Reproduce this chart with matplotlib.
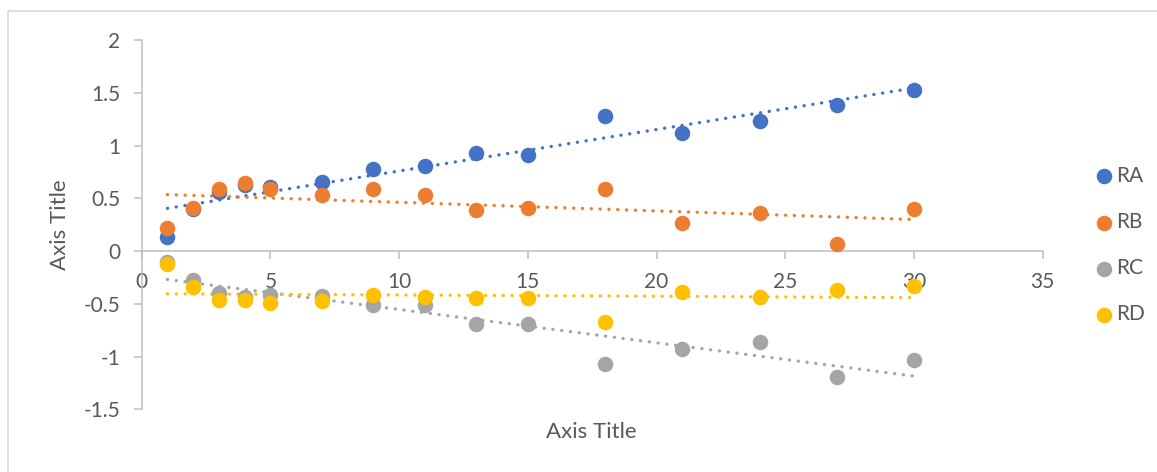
import numpy as np
import matplotlib
matplotlib.use("Agg")
import matplotlib.pyplot as plt
from matplotlib.patches import Rectangle

plt.rcParams['font.family'] = ['Lato', 'DejaVu Sans']

x = [1, 2, 3, 4, 5, 7, 9, 11, 13, 15, 18, 21, 24, 27, 30]
ra = [0.13, 0.40, 0.56, 0.63, 0.61, 0.65, 0.78, 0.81, 0.925, 0.91, 1.28, 1.12, 1.23, 1.385, 1.53]
rb = [0.215, 0.41, 0.59, 0.645, 0.59, 0.535, 0.59, 0.535, 0.39, 0.41, 0.59, 0.27, 0.36, 0.07, 0.40]
rc = [-0.105, -0.27, -0.40, -0.44, -0.42, -0.43, -0.515, -0.515, -0.695, -0.69, -1.075, -0.925, -0.86, -1.195, -1.035]
rd = [-0.125, -0.34, -0.465, -0.465, -0.49, -0.475, -0.42, -0.435, -0.445, -0.445, -0.67, -0.39, -0.435, -0.365, -0.33]
names = ['RA', 'RB', 'RC', 'RD']
series = [ra, rb, rc, rd]
colors = ['#4472C4', '#ED7D31', '#A5A5A5', '#FFC000']
xticks = [0, 5, 10, 15, 20, 25, 30, 35]
yticks = [-1.5, -1, -0.5, 0, 0.5, 1, 1.5, 2]

W, H = 1157, 472
fig = plt.figure(figsize=(W / 100, H / 100), dpi=100)
fig.patch.set_facecolor('white')
fig.patches.append(Rectangle((8 / W, -0.1), 1.2, 1 - 11 / H + 0.1, transform=fig.transFigure,
                             fill=False, edgecolor='#D9D9D9', linewidth=1.2))

left, right = 141.7 / W, 1042.7 / W
top, bottom = 1 - 40 / H, 1 - 409.3 / H
ax = fig.add_axes([left, bottom, right - left, top - bottom])
ax.set_xlim(0, 35)
ax.set_ylim(-1.5, 2)
ax.set_facecolor('none')

handles = []
xa = np.array(x, dtype=float)
for name, ys, c in zip(names, series, colors):
    h = ax.scatter(x, ys, s=125, color=c, zorder=3, label=name, linewidths=0)
    handles.append(h)
    k, b = np.polyfit(xa, np.array(ys), 1)
    xs = np.array([xa.min(), xa.max()])
    ax.plot(xs, k * xs + b, color=c, linewidth=2.4, linestyle=(0, (0.05, 2.6)),
            dash_capstyle='round', solid_capstyle='round', zorder=2)

for s in ['top', 'right']:
    ax.spines[s].set_visible(False)
ax.spines['left'].set_position(('data', 0))
ax.spines['bottom'].set_position(('data', 0))
for s in ['left', 'bottom']:
    ax.spines[s].set_color('#BFBFBF')
    ax.spines[s].set_linewidth(1.1)

ax.set_xticks(xticks)
ax.set_xticklabels([str(v) for v in xticks])
ax.set_yticks(yticks)
ax.set_yticklabels(['-1.5', '-1', '-0.5', '0', '0.5', '1', '1.5', '2'])
ax.tick_params(axis='both', direction='out', length=5.8, width=1.1, color='#BFBFBF',
               labelcolor='#595959', labelsize=15)
ax.tick_params(axis='y', pad=9.5)
ax.tick_params(axis='x', pad=9.5)

fig.text(591 / W, 1 - 432 / H, 'Axis Title', ha='center', va='center', fontsize=16, color='#595959')
fig.text(60 / W, 1 - 225 / H, 'Axis Title', ha='center', va='center', rotation=90,
         fontsize=16, color='#595959')

leg = fig.legend(handles=handles, labels=names, loc='center left',
                 bbox_to_anchor=(1094 / W, 1 - 245 / H), frameon=False,
                 fontsize=15, labelcolor='#595959', handletextpad=0.05,
                 labelspacing=1.25, handlelength=1.0, markerscale=1.0,
                 borderpad=0, borderaxespad=0)

fig.savefig('out.png', dpi=100, facecolor='white')
